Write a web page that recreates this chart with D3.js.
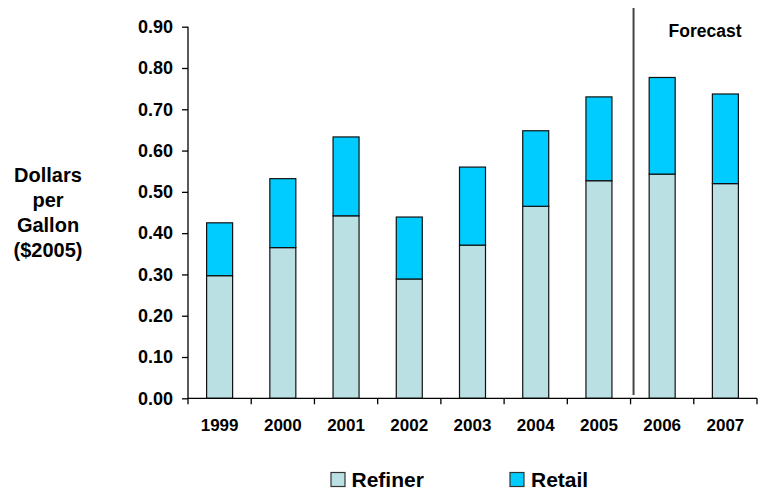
<!DOCTYPE html>
<html><head><meta charset="utf-8">
<script src="https://cdn.jsdelivr.net/npm/d3@7"></script>
<style>body{margin:0;background:#fff}svg{display:block;font-family:"Liberation Sans",Arial,sans-serif;font-weight:bold}</style>
</head><body>
<svg id="c" width="760" height="497"></svg>
<script>
const years = ["1999","2000","2001","2002","2003","2004","2005","2006","2007"];
const refiner = [0.297,0.365,0.442,0.289,0.371,0.465,0.527,0.543,0.520];
const totals = [0.425,0.532,0.633,0.439,0.560,0.648,0.730,0.777,0.737];
const retail = totals.map((t,i)=>+(t-refiner[i]).toFixed(3));
const yTicks = [0,0.1,0.2,0.3,0.4,0.5,0.6,0.7,0.8,0.9];
const seriesNames = ["Refiner","Retail"];
const colors = ["#BBE0E3","#00CCFF"];

const svg = d3.select("#c");
const x0 = 188, x1 = 757, yBottom = 398.3, yTop = 26.7;
const x = d3.scaleBand().domain(years).range([x0,x1]).paddingInner(0).paddingOuter(0);
const y = d3.scaleLinear().domain([0,0.9]).range([yBottom,yTop]);
const bw = 26;
const FF = "Liberation Sans, Arial, sans-serif";

const rows = years.map((yr,i)=>({year:yr,Refiner:refiner[i],Retail:retail[i]}));
const stack = d3.stack().keys(seriesNames)(rows);

svg.append("g").selectAll("g").data(stack).join("g")
  .attr("fill",(d,i)=>colors[i])
  .selectAll("rect").data(d=>d).join("rect")
  .attr("x",d=>x(d.data.year)+x.bandwidth()/2-bw/2)
  .attr("width",bw)
  .attr("y",d=>y(d[1]))
  .attr("height",d=>y(d[0])-y(d[1]))
  .attr("stroke","#111").attr("stroke-width",1.2);

// y axis
const yAxis = d3.axisLeft(y).tickValues(yTicks).tickFormat(d3.format(".2f")).tickSize(6).tickPadding(9);
const gy = svg.append("g").attr("transform",`translate(${x0},0)`).call(yAxis);
gy.select(".domain").attr("stroke","#000").attr("stroke-width",1.3).attr("d",`M0,${yTop}V${yBottom}`);
gy.selectAll(".tick line").attr("stroke","#000").attr("stroke-width",1.3);
gy.selectAll("text").attr("font-size",18).attr("font-weight","bold").attr("fill","#000").attr("font-family",FF);

// x axis
const xAxis = d3.axisBottom(x).tickSize(0).tickPadding(21);
const gx = svg.append("g").attr("transform",`translate(0,${yBottom})`).call(xAxis);
gx.select(".domain").attr("stroke","#000").attr("stroke-width",1.3).attr("d",`M${x0},0H${x1}`);
gx.selectAll("text").attr("font-size",17).attr("font-weight","bold").attr("fill","#000").attr("font-family",FF);
// boundary ticks
const bounds = years.map(d=>x(d)).concat([x1]);
gx.selectAll(".btick").data(bounds).join("line").attr("class","btick")
  .attr("x1",d=>d).attr("x2",d=>d).attr("y1",0).attr("y2",6)
  .attr("stroke","#000").attr("stroke-width",1.3);

// forecast divider
const fx = x("2006") + 3;
svg.append("line").attr("x1",fx).attr("x2",fx).attr("y1",8).attr("y2",395)
  .attr("stroke","#444").attr("stroke-width",2);
svg.append("text").attr("x",705).attr("y",37).attr("text-anchor","middle")
  .attr("font-size",17.5).text("Forecast");

// y title
const tl = ["Dollars","per","Gallon","($2005)"];
svg.append("text").attr("text-anchor","middle").attr("font-size",20)
  .selectAll("tspan").data(tl).join("tspan")
  .attr("x",48).attr("y",(d,i)=>182+i*25).text(d=>d);

// legend
const leg = [{n:"Refiner",bx:331,tx:351.5},{n:"Retail",bx:510,tx:531}];
leg.forEach((l,i)=>{
  svg.append("rect").attr("x",l.bx).attr("y",472.5).attr("width",14).attr("height",14)
    .attr("fill",colors[i]).attr("stroke","#333").attr("stroke-width",1.2);
  svg.append("text").attr("x",l.tx).attr("y",487).attr("font-size",21).text(l.n);
});
</script>
</body></html>
